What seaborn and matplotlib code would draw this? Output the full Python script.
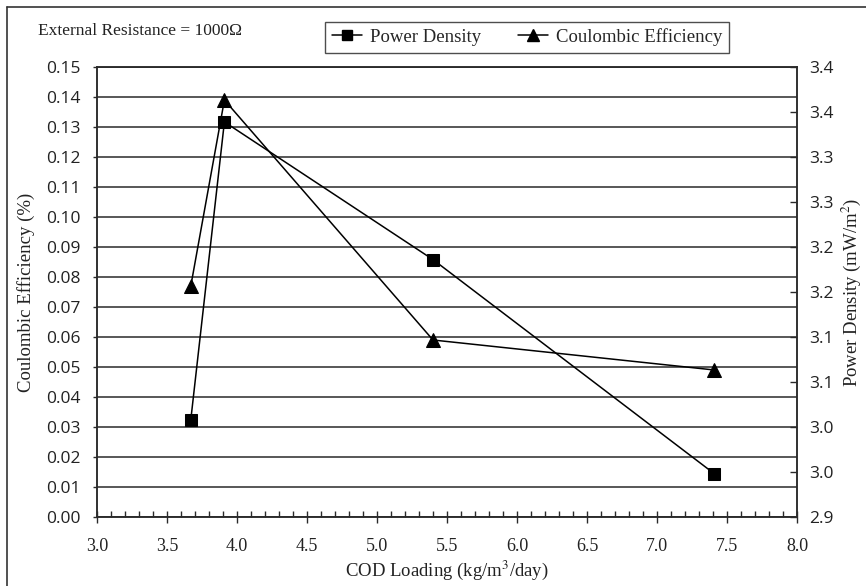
import matplotlib
matplotlib.use("Agg")
import matplotlib.pyplot as plt
import seaborn as sns
import numpy as np
import pandas as pd
from matplotlib.lines import Line2D

# ---- data ----
cod_loading = [3.67, 3.91, 5.40, 7.41]
power_density = [3.008, 3.339, 3.186, 2.948]
coulombic_eff = [0.077, 0.139, 0.059, 0.049]

left_ticks = [round(0.01 * i, 2) for i in range(16)]
right_ticks = [2.90, 2.95, 3.00, 3.05, 3.10, 3.15, 3.20, 3.25, 3.30, 3.35, 3.40]
right_ticklabels = ["2.9", "3.0", "3.0", "3.1", "3.1", "3.2", "3.2", "3.3", "3.3", "3.4", "3.4"]
x_ticks = [3.0, 3.5, 4.0, 4.5, 5.0, 5.5, 6.0, 6.5, 7.0, 7.5, 8.0]

df = pd.DataFrame({"cod": cod_loading, "pd": power_density, "ce": coulombic_eff})

sns.set_style("ticks")
plt.rcParams["font.family"] = ["Liberation Serif", "DejaVu Serif"]
plt.rcParams["mathtext.fontset"] = "stix"

W, H = 866, 586
fig = plt.figure(figsize=(W / 100, H / 100), dpi=100)
fig.patch.set_facecolor("white")

L, R, B, T = 97, 797, 517, 67
ax = fig.add_axes([L / W, 1 - B / H, (R - L) / W, (B - T) / H])
ax2 = ax.twinx()

# gridlines on left axis
ax.set_ylim(0, 0.15)
ax.set_xlim(3.0, 8.0)
ax.set_yticks(left_ticks)
ax.set_yticklabels([f"{v:.2f}" for v in left_ticks])
ax.yaxis.grid(True, color="#2a2a2a", linewidth=1.1)
ax.set_axisbelow(True)

sns.lineplot(data=df, x="cod", y="ce", ax=ax, color="black", marker="^",
             markersize=10, linewidth=1.1, sort=False, legend=False,
             markeredgecolor="black")
sns.lineplot(data=df, x="cod", y="pd", ax=ax2, color="black", marker="s",
             markersize=8, linewidth=1.1, sort=False, legend=False,
             markeredgecolor="black")

ax2.set_ylim(2.9, 3.4)
ax2.set_yticks(right_ticks)
ax2.set_yticklabels(right_ticklabels)

ax.set_xticks(x_ticks)
ax.set_xticklabels([f"{v:.1f}" for v in x_ticks])
ax.set_xticks(np.arange(3.0, 8.0001, 0.1), minor=True)

for a in (ax, ax2):
    for s in a.spines.values():
        s.set_color("#2a2a2a")
        s.set_linewidth(1.1)

ax.tick_params(axis="x", which="major", direction="inout", length=8, width=1, colors="#2a2a2a",
               labelsize=13, labelcolor="#222222", pad=11)
ax.tick_params(axis="x", which="minor", direction="in", length=4, width=1, colors="#2a2a2a")
ax.tick_params(axis="y", which="major", direction="out", length=3, width=1, colors="#2a2a2a",
               labelcolor="#222222", pad=9)
ax2.tick_params(axis="y", which="major", direction="in", length=5, width=1, colors="#2a2a2a",
                labelcolor="#222222", pad=9)
for lab in ax.get_yticklabels() + ax2.get_yticklabels():
    lab.set_family(["Open Sans", "DejaVu Sans"])
    lab.set_fontsize(12.5)

ax.set_xlabel("COD Loading (kg/m$^3$/day)", fontsize=13.5, color="#222222", labelpad=3)
ax.set_ylabel("Coulombic Efficiency (%)", fontsize=13.5, color="#222222", labelpad=8)
ax2.set_ylabel("Power Density (mW/m$^2$)", fontsize=13.5, color="#222222", labelpad=4)

# legend
h_pd = Line2D([], [], color="black", marker="s", markersize=7, linewidth=1.1)
h_ce = Line2D([], [], color="black", marker="^", markersize=8, linewidth=1.1)
leg = fig.legend([h_pd, h_ce], ["Power Density", "Coulombic Efficiency"], ncol=2,
                 loc="center", bbox_to_anchor=(527 / W, 1 - 37 / H), frameon=True,
                 fancybox=False, edgecolor="#222222", fontsize=13.5, handlelength=1.6,
                 columnspacing=2.0, handletextpad=0.4, borderpad=0.35)
leg.get_frame().set_linewidth(1.0)

fig.text(38 / W, 1 - 31 / H, "External Resistance = 1000Ω", fontsize=12.5,
         color="#222222", va="center", ha="left")

# outer chart-area border (top and left edges)
fig.add_artist(Line2D([7 / W, 7 / W], [0, 1 - 7 / H], color="#333333", linewidth=1.2,
                      transform=fig.transFigure))
fig.add_artist(Line2D([7 / W, 1], [1 - 7 / H, 1 - 7 / H], color="#333333", linewidth=1.2,
                      transform=fig.transFigure))

fig.savefig("out.png", dpi=100, facecolor="white")
